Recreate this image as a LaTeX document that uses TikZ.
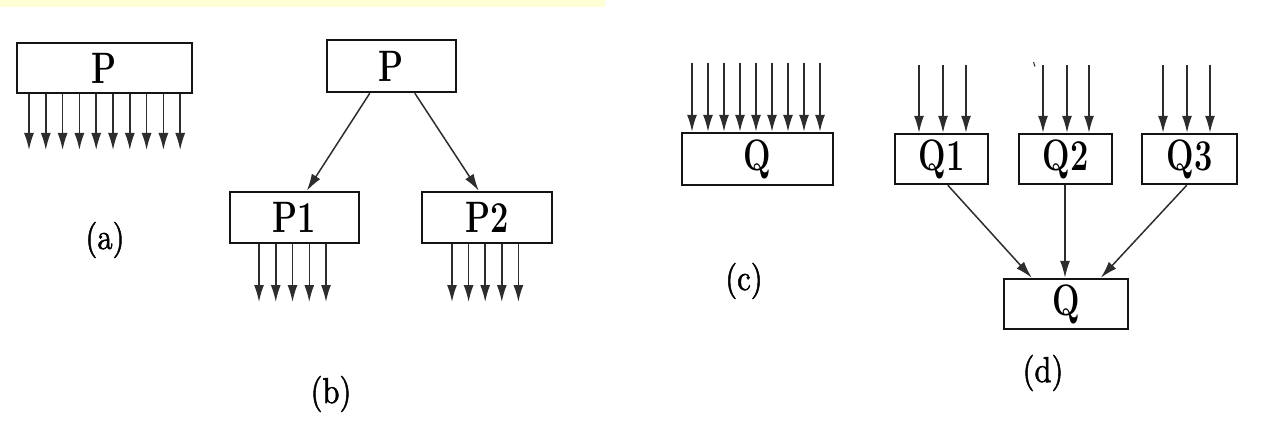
\documentclass[tikz,border=0pt]{standalone}
\usepackage{fontspec}
\usetikzlibrary{arrows.meta,calc}
\definecolor{strip}{RGB}{255,255,214}
\definecolor{ink}{RGB}{20,20,20}
\definecolor{wire}{RGB}{45,45,45}
% condensed serif labels
\newfontfamily\capfont[FakeBold=1.6]{lmroman10-regular.otf}
\newcommand{\boxlabel}[1]{\scalebox{0.74}[1]{\fontsize{44}{48}\selectfont\bfseries #1}}
\newcommand{\caplabel}[1]{\scalebox{0.85}[1]{\capfont\fontsize{36}{40}\selectfont #1}}
\begin{document}
\begin{tikzpicture}[x=1pt,y=-1pt,
  procbox/.style={draw=ink,line width=2.4pt,inner sep=0pt},
  flow/.style={draw=wire,line width=1.5pt,
    -{Latex[length=17pt,width=10pt]}},
  caption/.style={inner sep=0pt}]
  \useasboundingbox (0,0) rectangle (1264,422);
  \fill[strip] (0,0) rectangle (605,7);

  % (a) one process with ten outputs
  \node[procbox,minimum width=175pt,minimum height=50pt] (pa) at (104.5,68) {\boxlabel{P}};
  \foreach \i in {0,...,9}{
    \coordinate (ea\i) at ({29+\i*16.8},150);
    \draw[flow] (pa.south -| ea\i) -- (ea\i);
  }
  \node[caption] (capa) at (105,240) {\caplabel{(a)}};

  % (b) split into two processes
  \node[procbox,minimum width=129pt,minimum height=52pt] (pb) at (391.5,66) {\boxlabel{P}};
  \node[procbox,minimum width=129pt,minimum height=51pt] (pb1) at (294.5,217.5) {\boxlabel{P1}};
  \node[procbox,minimum width=130pt,minimum height=51pt] (pb2) at (487,217.5) {\boxlabel{P2}};
  \draw[flow] ($(pb.south west)+(44,0)$) -- ($(pb1.north west)+(78,0)$);
  \draw[flow] ($(pb.south west)+(89,0)$) -- ($(pb2.north west)+(58,0)$);
  \foreach \i in {0,...,4}{
    \coordinate (eb\i) at ({259+\i*16.75},302);
    \draw[flow] (pb1.south -| eb\i) -- (eb\i);
    \coordinate (ec\i) at ({452+\i*16.6},302);
    \draw[flow] (pb2.south -| ec\i) -- (ec\i);
  }
  \node[caption] (capb) at (331,394) {\caplabel{(b)}};

  % (c) nine inputs into one process
  \node[procbox,minimum width=151pt,minimum height=52pt] (qc) at (757.5,159) {\boxlabel{Q}};
  \foreach \i in {0,...,8}{
    \coordinate (sq\i) at ({692+\i*16},63);
    \draw[flow] (sq\i) -- (qc.north -| sq\i);
  }
  \node[caption] (capc) at (744,281) {\caplabel{(c)}};

  % (d) three processes merged into one
  \node[procbox,minimum width=93pt,minimum height=50pt] (q1) at (941.5,159) {\boxlabel{Q1}};
  \node[procbox,minimum width=93pt,minimum height=50pt] (q2) at (1065.5,159) {\boxlabel{Q2}};
  \node[procbox,minimum width=95pt,minimum height=50pt] (q3) at (1189.5,159) {\boxlabel{Q3}};
  \node[procbox,minimum width=124pt,minimum height=50pt] (qd) at (1066,304) {\boxlabel{Q}};
  \foreach \x [count=\k] in {919,943,966}{
    \coordinate (s1\k) at (\x,65);
    \draw[flow] (s1\k) -- (q1.north -| s1\k);
  }
  \foreach \x [count=\k] in {1043,1067,1089}{
    \coordinate (s2\k) at (\x,65);
    \draw[flow] (s2\k) -- (q2.north -| s2\k);
  }
  \foreach \x [count=\k] in {1163,1187,1210}{
    \coordinate (s3\k) at (\x,65);
    \draw[flow] (s3\k) -- (q3.north -| s3\k);
  }
  \draw[wire,line width=1pt] (1033.5,62) -- (1035,66.5);
  \draw[flow] ($(q1.south west)+(54,0)$) -- ($(qd.north west)+(29,0)$);
  \draw[flow] (q2.south -| 1065,0) -- (qd.north -| 1065,0);
  \draw[flow] ($(q3.south west)+(46,0)$) -- ($(qd.north west)+(98,0)$);
  \node[caption] (capd) at (1043,373) {\caplabel{(d)}};
\end{tikzpicture}
\end{document}
